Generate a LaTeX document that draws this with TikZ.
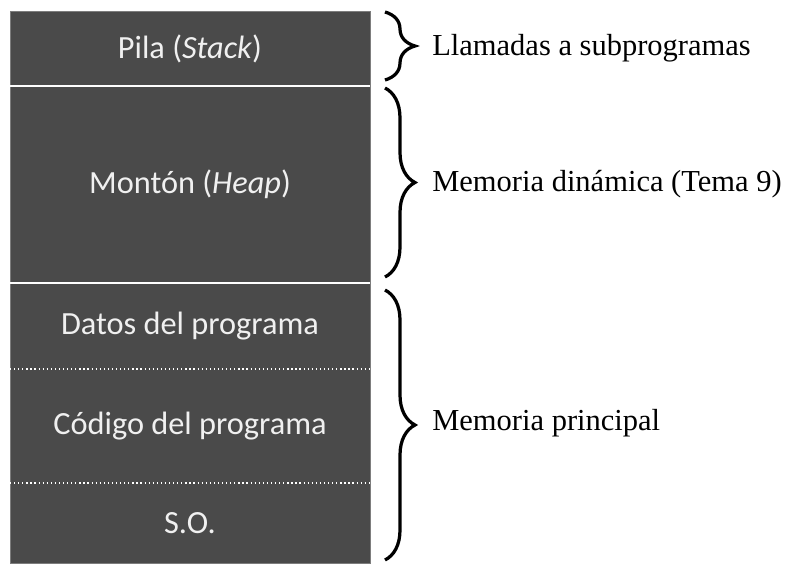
\documentclass[tikz,border=0pt]{standalone}
\usepackage{fontspec}
\setmainfont{Liberation Serif}
\newfontfamily\calfont{Carlito}
\usetikzlibrary{positioning,calc,decorations.pathreplacing}
\definecolor{memgrey}{RGB}{74,74,74}
\definecolor{memedge}{RGB}{125,125,125}

\begin{document}
\begin{tikzpicture}[
    seg/.style={rectangle, fill=memgrey, text=white!94!black, minimum width=9cm, inner sep=0pt, outer sep=0pt, font=\calfont\fontsize{23}{27}\selectfont},
    brc/.style={decorate, decoration={brace, amplitude=0.75cm}, line width=2.3pt},
    lbl/.style={anchor=west, inner sep=0pt, font=\fontsize{21.7}{25}\selectfont}
]
\useasboundingbox (0,0) rectangle (19.75,14.075);
% memory segments
\node[seg, minimum height=1.875cm, anchor=north west] (pila) at (0.25,13.8) {Pila (\textit{Stack})};
\node[seg, minimum height=4.925cm, below=0pt of pila] (heap) {Montón (\textit{Heap})};
\node[seg, minimum height=2.15cm, below=0pt of heap] (datos) {Datos del programa};
\node[seg, minimum height=2.85cm, below=0pt of datos] (codigo) {Código del programa};
\node[seg, minimum height=2cm, below=0pt of codigo] (so) {S.O.};
\draw[memedge, line width=0.4pt] (pila.north west) rectangle (so.south east);
% separators
\draw[white, line width=1.2pt] (pila.south west) -- (pila.south east);
\draw[white, line width=1.2pt] (heap.south west) -- (heap.south east);
\draw[white, dotted, line width=0.9pt] (datos.south west) -- (datos.south east);
\draw[white, dotted, line width=0.9pt] (codigo.south west) -- (codigo.south east);
% braces
\coordinate (b1a) at ([shift={(0.375,-0.025)}]pila.north east);
\coordinate (b1b) at ([shift={(0.375,0.15)}]pila.south east);
\coordinate (b2a) at ([shift={(0.375,-0.05)}]heap.north east);
\coordinate (b2b) at ([shift={(0.375,0.15)}]heap.south east);
\coordinate (b3a) at ([shift={(0.375,-0.175)}]datos.north east);
\coordinate (b3b) at ([shift={(0.375,0.075)}]so.south east);
\draw[brc] (b1a) -- (b1b);
\draw[brc] (b2a) -- (b2b);
\draw[brc] (b3a) -- (b3b);
% labels
\node[lbl, right=1.55cm of pila.east] (llamadas) {Llamadas a subprogramas};
\node[lbl, right=1.55cm of heap.east] (dinamica) {Memoria dinámica (Tema 9)};
\coordinate (mid) at ($(datos.north east)!0.5!(so.south east)$);
\node[lbl, right=1.55cm of mid] (principal) {Memoria principal};
\end{tikzpicture}
\end{document}
